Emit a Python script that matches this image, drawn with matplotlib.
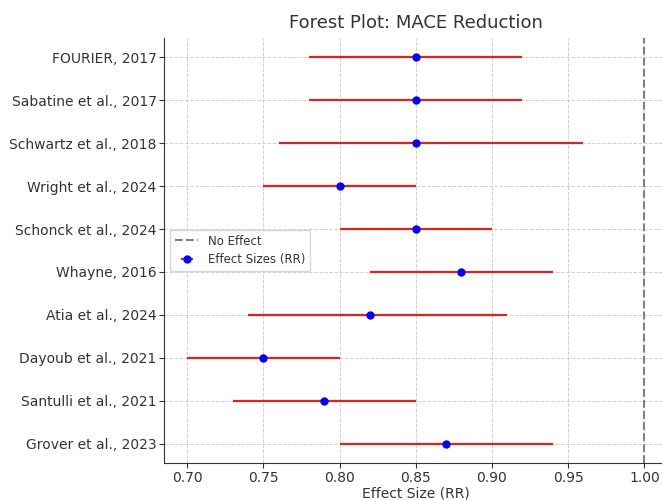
import matplotlib
import matplotlib.pyplot as plt
import numpy as np

matplotlib.use('Agg')

studies = ['FOURIER, 2017', 'Sabatine et al., 2017', 'Schwartz et al., 2018',
           'Wright et al., 2024', 'Schonck et al., 2024', 'Whayne, 2016',
           'Atia et al., 2024', 'Dayoub et al., 2021', 'Santulli et al., 2021',
           'Grover et al., 2023']
effect_sizes = [0.85, 0.85, 0.85, 0.80, 0.85, 0.88, 0.82, 0.75, 0.79, 0.87]
lower_ci = [0.78, 0.78, 0.76, 0.75, 0.80, 0.82, 0.74, 0.70, 0.73, 0.80]
upper_ci = [0.92, 0.92, 0.96, 0.85, 0.90, 0.94, 0.91, 0.80, 0.85, 0.94]

text_col = '#333333'
plt.rcParams['text.color'] = text_col
plt.rcParams['axes.labelcolor'] = text_col
plt.rcParams['xtick.color'] = text_col
plt.rcParams['ytick.color'] = text_col

eff = np.array(effect_sizes)
err = [eff - np.array(lower_ci), np.array(upper_ci) - eff]
y_pos = np.arange(len(studies))

fig = plt.figure(figsize=(6.62, 5), dpi=100)
ax = fig.add_axes([0.248, 0.074, 0.76, 0.85])

ax.axvline(1.0, color='gray', linestyle='--', linewidth=1.5, label='No Effect')
ax.errorbar(eff, y_pos, xerr=err, fmt='o', color='blue', ecolor='#dd2222',
            elinewidth=1.6, capsize=0, markersize=5, label='Effect Sizes (RR)')

ax.set_yticks(y_pos)
ax.set_yticklabels(studies, fontsize=10)
ax.invert_yaxis()
ax.tick_params(axis='x', labelsize=10, pad=2)
ax.tick_params(axis='y', pad=2)
ax.set_xlabel('Effect Size (RR)', fontsize=10, labelpad=1)
ax.set_title('Forest Plot: MACE Reduction', fontsize=13, pad=7)

ax.grid(True, linestyle='--', color='#d0d0d0', linewidth=0.7)
ax.set_axisbelow(True)
ax.spines['top'].set_visible(False)
ax.spines['right'].set_visible(False)
ax.spines['left'].set_color(text_col)
ax.spines['bottom'].set_color(text_col)
ax.legend(loc='center left', fontsize=8.5)

plt.savefig('out.png', dpi=100)
